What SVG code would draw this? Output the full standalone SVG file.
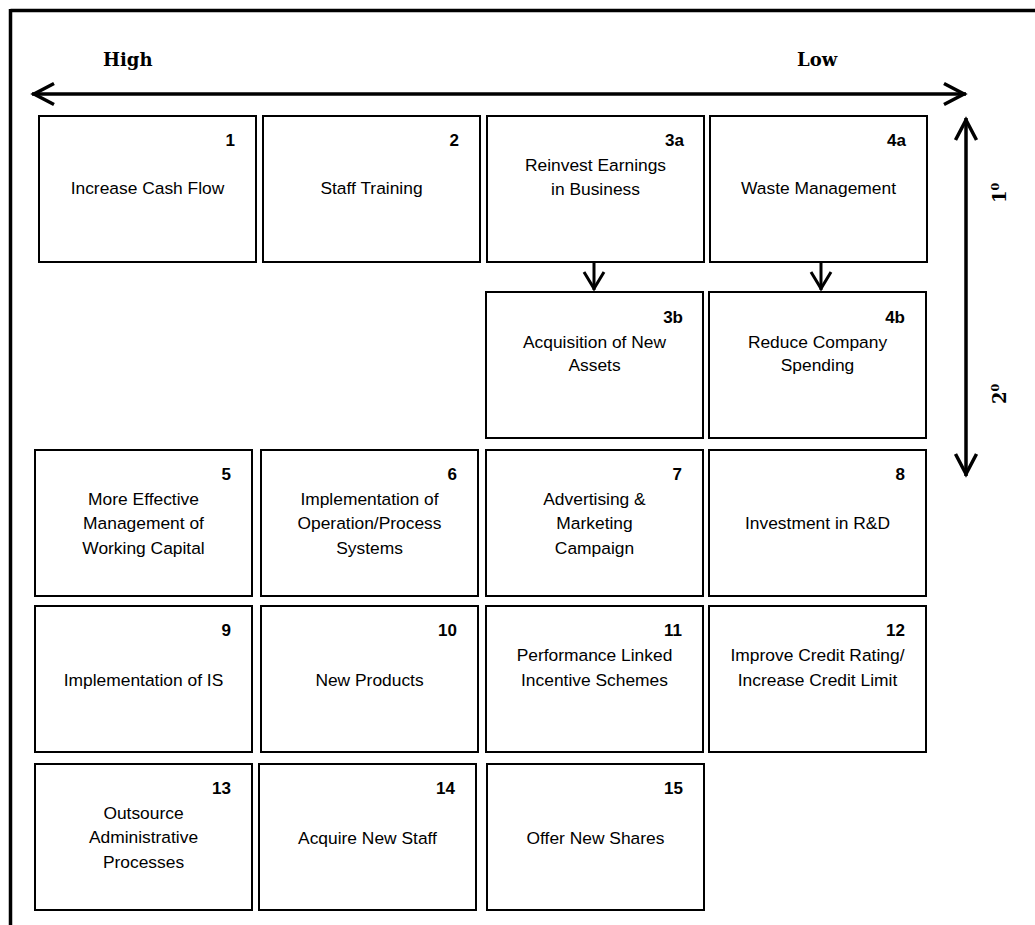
<svg xmlns="http://www.w3.org/2000/svg" width="1035" height="925" viewBox="0 0 1035 925">
<style>
.box rect{fill:#fff;stroke:#000;stroke-width:2}
.lbl{font-family:"Liberation Sans",Arial,sans-serif;font-size:17.4px;fill:#000;text-anchor:middle}
.num{font-family:"Liberation Sans",Arial,sans-serif;font-size:17px;font-weight:bold;fill:#000;text-anchor:end}
.axis{font-family:"DejaVu Serif",serif;font-weight:bold;font-size:18px;fill:#000}
.conn line{stroke:#000;fill:none}
</style>
<defs>
<marker id="chev" markerUnits="userSpaceOnUse" viewBox="-26 -14 30 28" refX="0" refY="0" markerWidth="30" markerHeight="28" orient="auto-start-reverse" overflow="visible">
<path d="M-22,-10.5 L-2,0 L-22,10.5" fill="none" stroke="#000" stroke-width="3.5" stroke-linejoin="miter"/>
</marker>
<marker id="chevs" markerUnits="userSpaceOnUse" viewBox="-22 -12 26 24" refX="0" refY="0" markerWidth="26" markerHeight="24" orient="auto" overflow="visible">
<path d="M-18,-10 L-1.5,0 L-18,10" fill="none" stroke="#000" stroke-width="3" stroke-linejoin="miter"/>
</marker>
</defs>
<rect width="1035" height="925" fill="#fff"/>
<g id="frame">
<line x1="10.5" y1="10.5" x2="1035" y2="10.5" stroke="#000" stroke-width="3.5"/>
<line x1="10.5" y1="9" x2="10.5" y2="925" stroke="#000" stroke-width="3.5"/>
</g>
<g id="axis-labels">
<text class="axis" x="103" y="66">High</text>
<text class="axis" x="797" y="66">Low</text>
<text class="axis" transform="translate(1006,203) rotate(-90)">1<tspan font-size="11" dy="-7">0</tspan></text>
<text class="axis" transform="translate(1006,404) rotate(-90)">2<tspan font-size="11" dy="-7">0</tspan></text>
</g>
<g id="connectors" class="conn">
<line x1="32" y1="94" x2="966" y2="94" stroke-width="3.5" marker-start="url(#chev)" marker-end="url(#chev)"/>
<line x1="966" y1="118" x2="966" y2="476" stroke-width="3.5" marker-start="url(#chev)" marker-end="url(#chev)"/>
<line x1="594" y1="263" x2="594" y2="290" stroke-width="3" marker-end="url(#chevs)"/>
<line x1="821" y1="263" x2="821" y2="290" stroke-width="3" marker-end="url(#chevs)"/>
</g>
<g id="n1" class="box"><rect x="39" y="116" width="217" height="146"/><text class="num" x="235" y="146">1</text><text class="lbl" x="147.5" y="194">Increase Cash Flow</text></g>
<g id="n2" class="box"><rect x="263" y="116" width="217" height="146"/><text class="num" x="459" y="146">2</text><text class="lbl" x="371.5" y="194">Staff Training</text></g>
<g id="n3a" class="box"><rect x="487" y="116" width="217" height="146"/><text class="num" x="684" y="146">3a</text><text class="lbl" x="595.5" y="171">Reinvest Earnings</text><text class="lbl" x="595.5" y="195">in Business</text></g>
<g id="n4a" class="box"><rect x="710" y="116" width="217" height="146"/><text class="num" x="906" y="146">4a</text><text class="lbl" x="818.5" y="194">Waste Management</text></g>
<g id="n3b" class="box"><rect x="486" y="292" width="217" height="146"/><text class="num" x="683" y="323">3b</text><text class="lbl" x="594.5" y="348">Acquisition of New</text><text class="lbl" x="594.5" y="371">Assets</text></g>
<g id="n4b" class="box"><rect x="709" y="292" width="217" height="146"/><text class="num" x="905" y="323">4b</text><text class="lbl" x="817.5" y="348">Reduce Company</text><text class="lbl" x="817.5" y="371">Spending</text></g>
<g id="n5" class="box"><rect x="35" y="450" width="217" height="146"/><text class="num" x="231" y="480">5</text><text class="lbl" x="143.5" y="505">More Effective</text><text class="lbl" x="143.5" y="529">Management of</text><text class="lbl" x="143.5" y="554">Working Capital</text></g>
<g id="n6" class="box"><rect x="261" y="450" width="217" height="146"/><text class="num" x="457" y="480">6</text><text class="lbl" x="369.5" y="505">Implementation of</text><text class="lbl" x="369.5" y="529">Operation/Process</text><text class="lbl" x="369.5" y="554">Systems</text></g>
<g id="n7" class="box"><rect x="486" y="450" width="217" height="146"/><text class="num" x="682" y="480">7</text><text class="lbl" x="594.5" y="505">Advertising &amp;</text><text class="lbl" x="594.5" y="529">Marketing</text><text class="lbl" x="594.5" y="554">Campaign</text></g>
<g id="n8" class="box"><rect x="709" y="450" width="217" height="146"/><text class="num" x="905" y="480">8</text><text class="lbl" x="817.5" y="529">Investment in R&amp;D</text></g>
<g id="n9" class="box"><rect x="35" y="606" width="217" height="146"/><text class="num" x="231" y="636">9</text><text class="lbl" x="143.5" y="686">Implementation of IS</text></g>
<g id="n10" class="box"><rect x="261" y="606" width="217" height="146"/><text class="num" x="457" y="636">10</text><text class="lbl" x="369.5" y="686">New Products</text></g>
<g id="n11" class="box"><rect x="486" y="606" width="217" height="146"/><text class="num" x="682" y="636">11</text><text class="lbl" x="594.5" y="661">Performance Linked</text><text class="lbl" x="594.5" y="686">Incentive Schemes</text></g>
<g id="n12" class="box"><rect x="709" y="606" width="217" height="146"/><text class="num" x="905" y="636">12</text><text class="lbl" x="817.5" y="661">Improve Credit Rating/</text><text class="lbl" x="817.5" y="686">Increase Credit Limit</text></g>
<g id="n13" class="box"><rect x="35" y="764" width="217" height="146"/><text class="num" x="231" y="794">13</text><text class="lbl" x="143.5" y="819">Outsource</text><text class="lbl" x="143.5" y="843">Administrative</text><text class="lbl" x="143.5" y="868">Processes</text></g>
<g id="n14" class="box"><rect x="259" y="764" width="217" height="146"/><text class="num" x="455" y="794">14</text><text class="lbl" x="367.5" y="844">Acquire New Staff</text></g>
<g id="n15" class="box"><rect x="487" y="764" width="217" height="146"/><text class="num" x="683" y="794">15</text><text class="lbl" x="595.5" y="844">Offer New Shares</text></g>
</svg>
